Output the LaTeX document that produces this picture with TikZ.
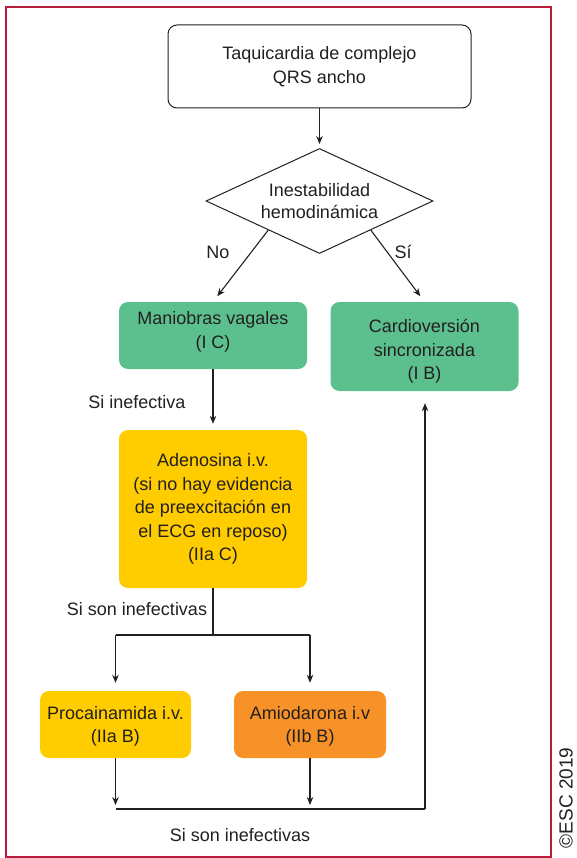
\documentclass[tikz,border=0pt]{standalone}
\usepackage{fontspec}
\setmainfont{Liberation Sans}
\usetikzlibrary{shapes.geometric,arrows.meta,calc}
\definecolor{framered}{RGB}{183,28,60}
\definecolor{boxgreen}{RGB}{92,192,142}
\definecolor{boxyellow}{RGB}{255,204,0}
\definecolor{boxorange}{RGB}{246,146,40}
\definecolor{ink}{RGB}{35,31,32}

\begin{document}
\begin{tikzpicture}[x=1pt,y=-1pt,
  every node/.style={font=\fontsize{18}{23.5}\selectfont, text=ink, align=center, inner sep=0pt},
  box/.style={rounded corners=9pt},
  conn/.style={draw=ink, line width=1.1pt},
  arr/.style={conn, -{Stealth[length=8pt,width=6.5pt]}}]
  \useasboundingbox (0,0) rectangle (577,858);

  % outer frame
  \draw[framered, line width=2pt] (6,7) rectangle (551,857);

  % boxes
  \node[box, draw=ink, line width=1pt, minimum width=303pt, minimum height=83pt]
    (start) at (319.5,66.5) {Taquicardia de complejo\\QRS ancho};
  \node[draw=ink, line width=1pt, diamond, aspect=2.16, minimum width=227pt, minimum height=105pt]
    (hd) at (319.5,201) {Inestabilidad\\[-1.5pt]hemodinámica};
  \node[box, fill=boxgreen, minimum width=188pt, minimum height=67pt,
    label={[yshift=3.5pt, align=center]center:Maniobras vagales\\(I C)}]
    (mv) at (213,335.5) {};
  \node[box, fill=boxgreen, minimum width=188pt, minimum height=89pt,
    label={[yshift=-5pt, align=center]center:Cardioversión\\sincronizada\\(I B)}]
    (cv) at (424.5,346.5) {};
  \node[box, fill=boxyellow, minimum width=188pt, minimum height=158pt]
    (ad) at (213,509) {Adenosina i.v.\\(si no hay evidencia\\de preexcitación en\\el ECG en reposo)\\(IIa C)};
  \node[box, fill=boxyellow, minimum width=151pt, minimum height=67pt,
    label={[yshift=-2pt, align=center]center:Procainamida i.v.\\(IIa B)}]
    (pr) at (115.5,724.5) {};
  \node[box, fill=boxorange, minimum width=152pt, minimum height=67pt,
    label={[yshift=-2pt, align=center]center:Amiodarona i.v\\(IIb B)}]
    (am) at (310,724.5) {};

  % connectors
  \draw[arr, shorten >=4pt] (start) -- (hd);
  \draw[arr, shorten >=7pt] ($(hd.west)!0.55!(hd.south)$) -- (mv.north);
  \draw[arr, shorten >=7pt] ($(hd.east)!0.55!(hd.south)$) -- (cv.north);
  \node (no) at (218,252) {No};
  \node (si) at (403,252) {Sí};

  \draw[arr, shorten >=6pt] (mv) -- (ad);
  \node (ineff1) at (137,402) {Si inefectiva};

  \coordinate (split) at (213,635);
  \draw[conn] (ad.south) -- (split);
  \draw[conn] (split -| pr.north) -- (split -| am.north);
  \draw[arr, shorten >=8pt] (split -| pr.north) -- (pr.north);
  \draw[arr, shorten >=8pt] (split -| am.north) -- (am.north);
  \node (ineff2) at (137,609) {Si son inefectivas};

  \coordinate (merge) at (425,809);
  \draw[arr, shorten >=4pt] (pr.south) -- (pr.south |- merge);
  \draw[arr, shorten >=4pt] (am.south) -- (am.south |- merge);
  \draw[conn] (pr.south |- merge) -- (merge);
  \draw[arr, shorten >=12pt] (merge) -- (merge |- cv.south);
  \node (ineff3) at (240,835) {Si son inefectivas};

  % copyright
  \node[rotate=90, font=\fontsize{19}{24}\selectfont] (copy) at (566,798) {©ESC 2019};
\end{tikzpicture}
\end{document}
